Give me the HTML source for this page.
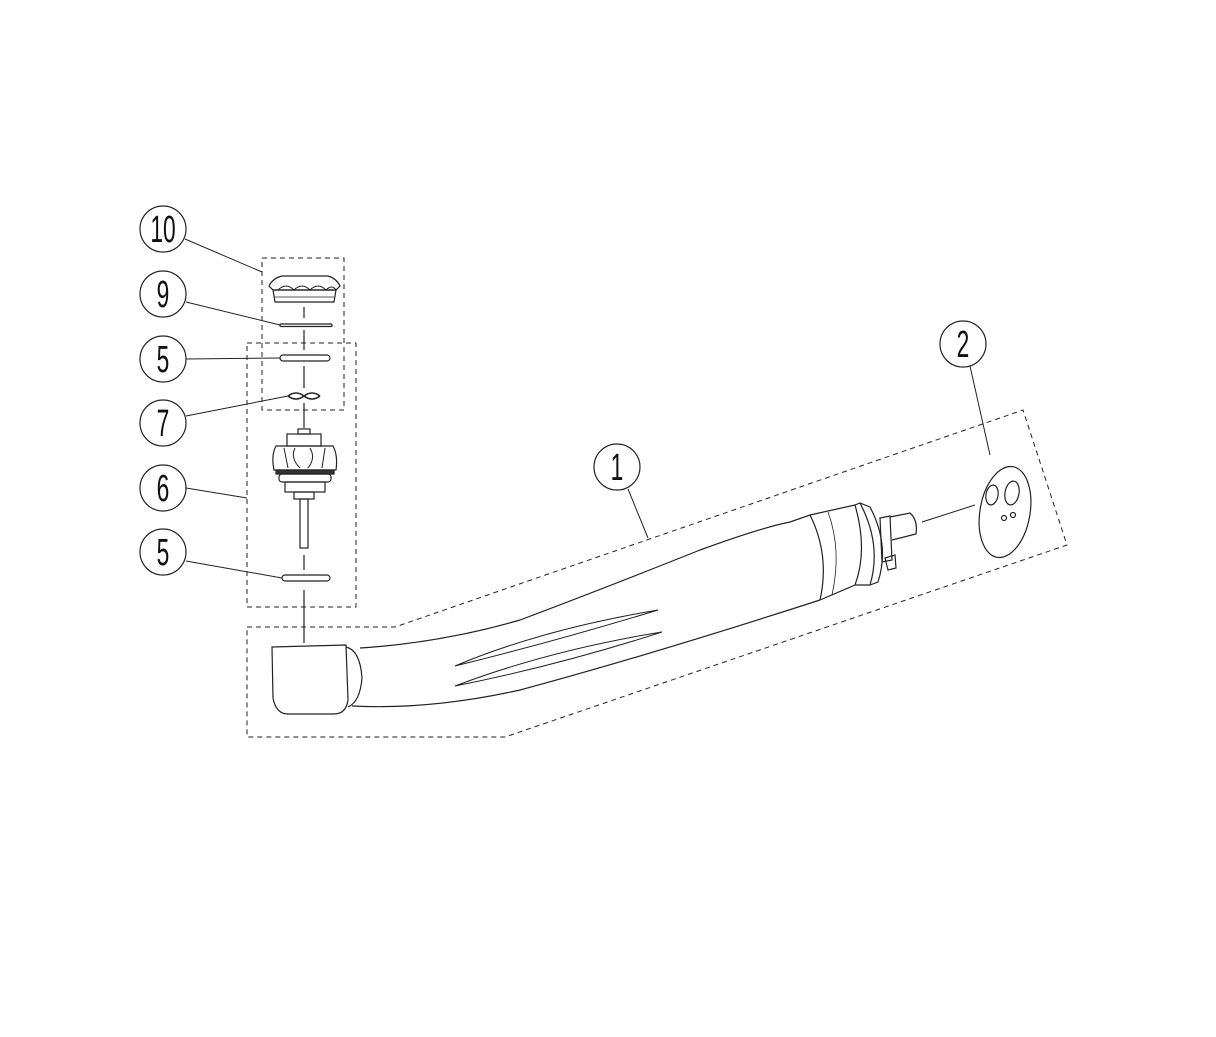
<!DOCTYPE html>
<html><head><style>body{margin:0;background:#fff}svg{display:block}text{font-family:"Liberation Sans",sans-serif}</style></head><body>
<svg width="1216" height="1037" viewBox="0 0 1216 1037" xmlns="http://www.w3.org/2000/svg" fill="none" stroke="#222" stroke-width="1.2">
<g font-size="38" fill="#111" stroke="none" text-anchor="middle">
<text transform="translate(163 242) scale(0.6 1)">10</text>
<text transform="translate(163 307) scale(0.6 1)">9</text>
<text transform="translate(163 372) scale(0.6 1)">5</text>
<text transform="translate(163 436) scale(0.6 1)">7</text>
<text transform="translate(163 501) scale(0.6 1)">6</text>
<text transform="translate(163 565) scale(0.6 1)">5</text>
<text transform="translate(617 480) scale(0.6 1)">1</text>
<text transform="translate(963 357) scale(0.6 1)">2</text>
</g>
<circle cx="163" cy="229" r="23"/><circle cx="163" cy="294" r="23"/><circle cx="163" cy="359" r="23"/>
<circle cx="163" cy="423" r="23"/><circle cx="163" cy="488" r="23"/><circle cx="163" cy="552" r="23"/>
<circle cx="617" cy="467" r="23"/><circle cx="963" cy="344" r="23"/>
<g stroke-width="1">
<line x1="185" y1="239" x2="262" y2="272"/><line x1="186" y1="302" x2="280" y2="325"/>
<line x1="186" y1="359" x2="280" y2="358"/><line x1="186" y1="416" x2="288" y2="396"/>
<line x1="186" y1="488" x2="247" y2="498"/><line x1="186" y1="561" x2="282" y2="578"/>
<line x1="628" y1="489" x2="648" y2="538"/><line x1="970" y1="366" x2="990" y2="455"/>
<line x1="922" y1="522" x2="975" y2="505"/>
</g>
<g stroke-dasharray="5 4" stroke-width="1">
<rect x="262" y="258" width="82" height="152"/>
<rect x="247" y="343" width="109" height="264"/>
<polygon points="247,627 395,627 1023,410 1067,545 505,737 247,737"/>
</g>
<g stroke-width="1.2">
<line x1="304" y1="307" x2="304" y2="318"/><line x1="304" y1="330" x2="304" y2="350"/>
<line x1="304" y1="366" x2="304" y2="388"/><line x1="304" y1="403" x2="304" y2="428"/>
<line x1="304" y1="555" x2="304" y2="570"/><line x1="304" y1="590" x2="304" y2="643"/>
</g>
<path d="M282 276 L328 276 Q336 278 340 286 L336 290 L273 290 L269 286 Q273 278 282 276Z"/>
<path d="M273 290 L336 290 L334 302 L275 302Z"/>
<path d="M278 290 Q286 282 294 290 Q302 282 310 290 Q318 282 326 290 Q332 284 336 290" stroke-width="1"/>
<line x1="275" y1="297" x2="334" y2="297" stroke-width="0.8"/>
<rect x="280" y="324" width="52" height="2.5" rx="1"/>
<rect x="280" y="355" width="50" height="6" rx="3"/>
<path d="M288 396 Q296 390 304 396 Q312 402 320 396 M288 396 Q296 402 304 396 Q312 390 320 396" stroke-width="1.5"/>
<rect x="298" y="429" width="12" height="5"/>
<rect x="287" y="434" width="34" height="12"/>
<path d="M276 446 L333 446 Q338 455 336 470 L274 470 Q271 455 276 446Z"/>
<path d="M284 448 L288 468 M295 448 Q290 458 300 468 M310 448 Q316 458 308 468 M325 448 L322 468" stroke-width="1"/>
<rect x="276" y="470" width="58" height="4" fill="#333"/>
<rect x="279" y="474" width="52" height="8" rx="3"/>
<rect x="285" y="482" width="40" height="10"/>
<rect x="294" y="492" width="20" height="7"/>
<rect x="300" y="499" width="8" height="49"/>
<rect x="282" y="575" width="48" height="6" rx="3"/>
<path d="M272 647 L346 645 L348 700 Q346 714 334 714 L288 714 Q276 714 273 698Z"/>
<path d="M346 647 Q360 650 362 678 Q360 702 348 707"/>
<path d="M360 648 Q440 643 520 620 Q600 590 700 550 Q760 528 790 522"/>
<path d="M352 706 Q430 710 520 690 Q650 655 820 600"/>
<path d="M455 666 Q540 630 658 610 Q560 640 455 666Z" stroke-width="1"/>
<path d="M455 686 Q550 650 662 632 Q560 665 455 686Z" stroke-width="1"/>
<path d="M790 522 L810 515 Q830 555 820 600"/>
<path d="M810 515 L855 505 Q868 550 855 585 L820 600"/>
<path d="M828 512 Q842 550 832 595" stroke-width="0.8"/>
<path d="M855 505 L860 503 Q882 545 870 585 L855 585"/>
<path d="M860 503 L870 507 Q890 545 878 582 L870 585"/>
<path d="M880 518 L890 516 L892 560 L882 562Z"/>
<path d="M890 517 L910 513 Q918 520 916 534 L892 540"/>
<path d="M885 558 L895 555 L896 568 L888 570Z"/>
<ellipse cx="1005" cy="512" rx="25" ry="46" transform="rotate(10 1005 512)"/>
<ellipse cx="992" cy="495" rx="6" ry="10" transform="rotate(10 992 495)"/>
<ellipse cx="1012" cy="493" rx="7" ry="12" transform="rotate(10 1012 493)"/>
<circle cx="1004" cy="518" r="2.5"/><circle cx="1013" cy="515" r="2.5"/>
</svg>
</body></html>
